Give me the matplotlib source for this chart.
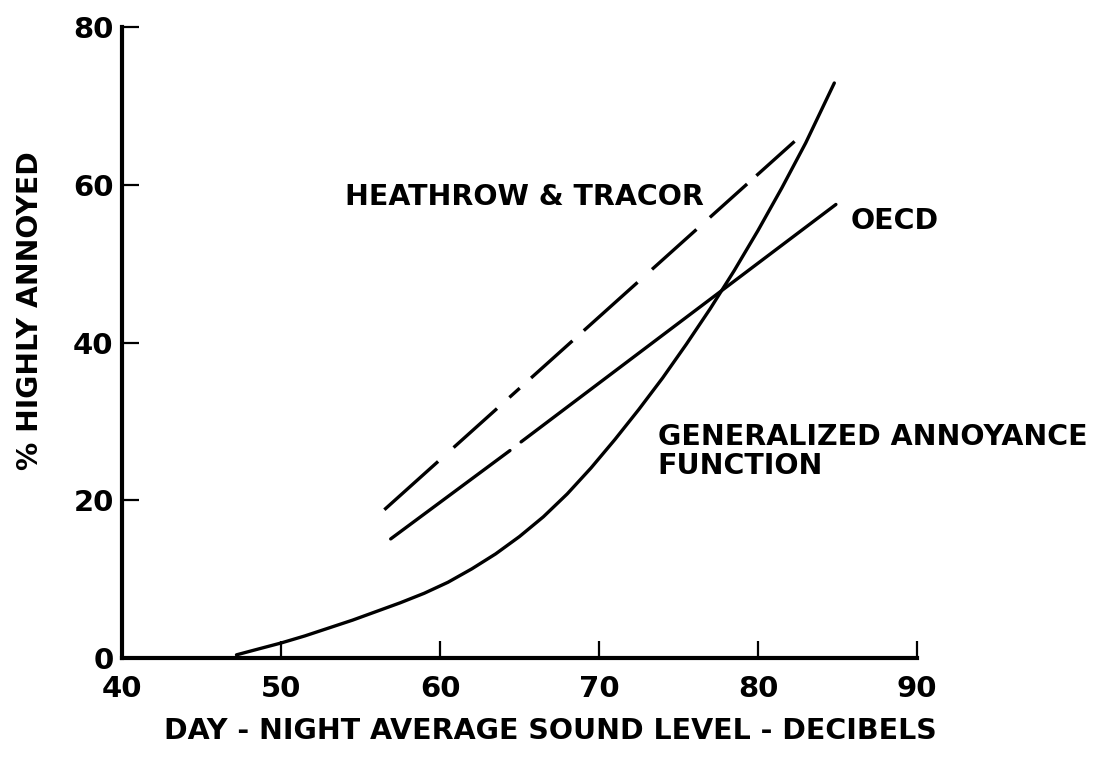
import numpy as np
import matplotlib
matplotlib.use("Agg")
import matplotlib.pyplot as plt

# values
ga_x = [47.2, 48.5, 50.0, 51.5, 53.0, 54.5, 56.0, 57.5, 59.0, 60.5, 62.0,
        63.5, 65.0, 66.5, 68.0, 69.5, 71.0, 72.5, 74.0, 75.5, 77.0, 78.5,
        80.0, 81.5, 83.0, 84.8]
ga_y = [0.4, 1.1, 1.9, 2.8, 3.8, 4.8, 5.9, 7.0, 8.2, 9.6, 11.3,
        13.2, 15.4, 17.9, 20.8, 24.1, 27.7, 31.5, 35.5, 39.8, 44.3, 49.1,
        54.2, 59.6, 65.3, 72.9]

oecd_x = [56.9, 64.4, np.nan, 65.1, 84.9]
oecd_y = [15.1, 26.3, np.nan, 27.4, 57.5]

heathrow_x = [56.5, 82.3]
heathrow_y = [18.8, 65.5]

x_ticks = [40, 50, 60, 70, 80, 90]
y_ticks = [0, 20, 40, 60, 80]

plt.rcParams["font.family"] = ["DejaVu Sans"]
plt.rcParams["lines.scale_dashes"] = False

fig = plt.figure(figsize=(10.93, 7.58), dpi=100, facecolor="white")
ax = fig.add_axes([122 / 1093, 1 - 658 / 758, (917 - 122) / 1093, (658 - 27) / 758])

ax.plot(ga_x, ga_y, color="black", linewidth=2.4, solid_capstyle="round",
        solid_joinstyle="round")
ax.plot(oecd_x, oecd_y, color="black", linewidth=2.4, solid_capstyle="round")
ax.plot(heathrow_x, heathrow_y, color="black", linewidth=2.4,
        dash_capstyle="butt",
        dashes=(52, 15, 42, 12, 10, 11, 40, 11, 52, 14, 43, 13, 36, 9, 45, 20))

ax.set_xlim(40, 90)
ax.set_ylim(0, 80)
ax.set_xticks(x_ticks)
ax.set_yticks(y_ticks)
ax.tick_params(direction="in", length=12, width=1.6, color="black",
               labelsize=21, pad=12)
ax.tick_params(axis="y", pad=6)
for lab in ax.get_xticklabels() + ax.get_yticklabels():
    lab.set_fontweight("bold")

for side in ["top", "right"]:
    ax.spines[side].set_visible(False)
for side in ["left", "bottom"]:
    ax.spines[side].set_linewidth(3)
    ax.spines[side].set_color("black")

txt = dict(fontsize=20.5, fontweight="bold", color="black")
ax.text(54.0, 58.4, "HEATHROW & TRACOR", ha="left", va="center", **txt)
ax.text(85.8, 55.4, "OECD", ha="left", va="center", **txt)
ax.text(73.7, 26.2, "GENERALIZED ANNOYANCE\nFUNCTION", ha="left", va="center",
        linespacing=1.05, **txt)

fig.text(550 / 1093, 1 - 731 / 758, "DAY - NIGHT AVERAGE SOUND LEVEL - DECIBELS",
         ha="center", va="center", fontsize=20.5, fontweight="bold")
fig.text(30 / 1093, 1 - 311 / 758, "% HIGHLY ANNOYED", rotation=90,
         ha="center", va="center", fontsize=20.3, fontweight="bold")

fig.savefig("out.png", dpi=100, facecolor="white")
